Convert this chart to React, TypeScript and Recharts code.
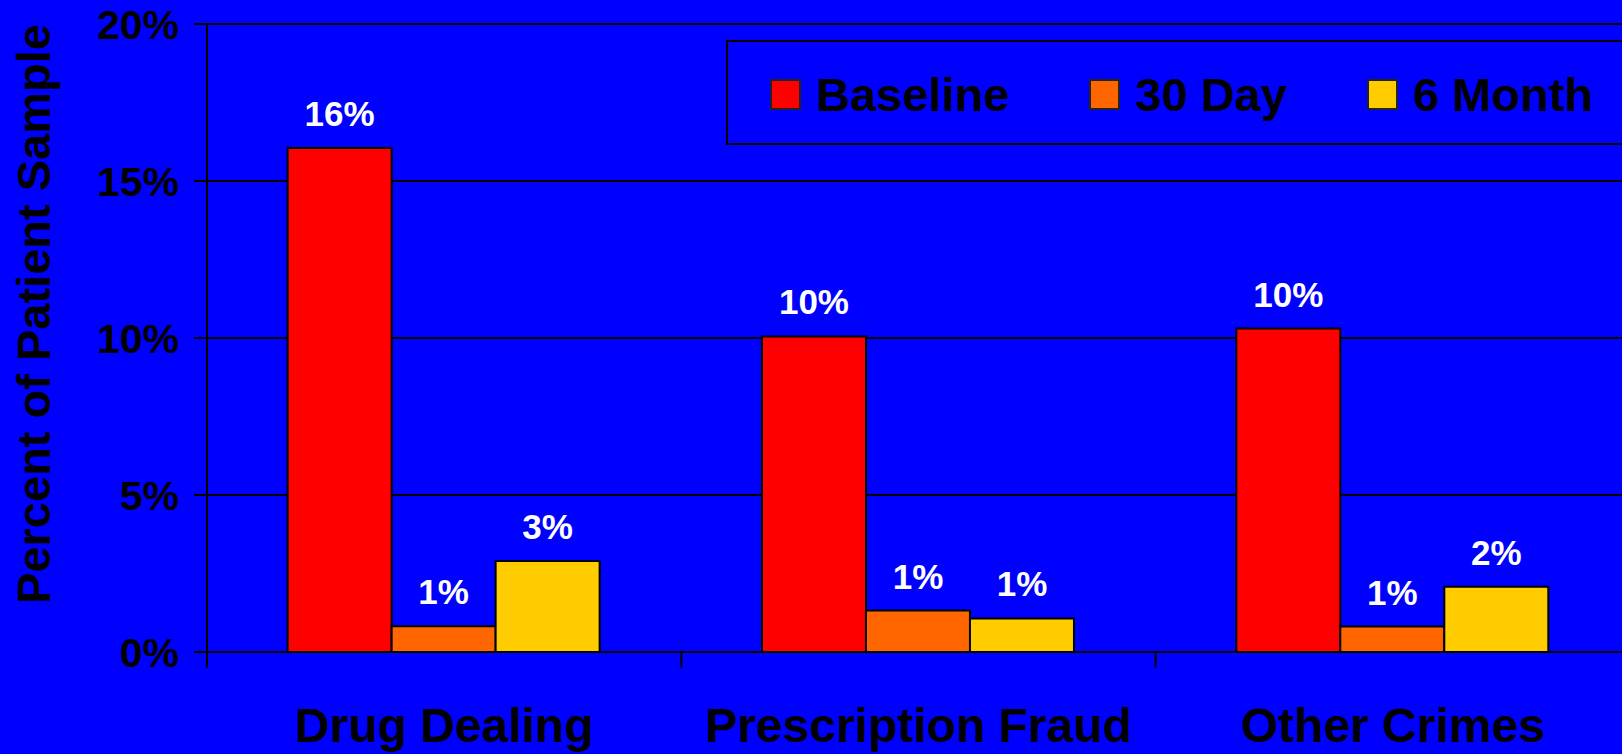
import React from 'react';
import { BarChart, Bar, XAxis, YAxis, CartesianGrid, Legend, LabelList, Label } from 'recharts';

const categories = ['Drug Dealing', 'Prescription Fraud', 'Other Crimes'];
const seriesNames = ['Baseline', '30 Day', '6 Month'];
const baseline = [16.05, 10.05, 10.3];
const day30 = [0.82, 1.32, 0.81];
const month6 = [2.9, 1.07, 2.08];
const yTicks = [0, 5, 10, 15, 20];

const FONT = '"Liberation Sans", Arial, Helvetica, sans-serif';

const chartData = categories.map((name, i) => ({
    name,
    baseline: baseline[i],
    day30: day30[i],
    month6: month6[i],
}));

// x tick: label in the middle, tick marks on the category edges
function CategoryTick(props: any) {
    const { x, y, payload, index, visibleTicksCount } = props;
    const half = payload.offset || 0;
    const isLast = index === visibleTicksCount - 1;
    return (
        <g>
            <line x1={x - half} x2={x - half} y1={y} y2={y + 16} stroke="#000" strokeWidth={2} />
            {isLast && <line x1={x + half} x2={x + half} y1={y} y2={y + 16} stroke="#000" strokeWidth={2} />}
            <text x={x} y={y + 90} textAnchor="middle" fill="#000" fontSize={48} fontWeight="bold" fontFamily={FONT}>
                {payload.value}
            </text>
        </g>
    );
}

function LegendBox(props: any) {
    const items = [...(props.payload || [])].sort(
        (a: any, b: any) => seriesNames.indexOf(a.value) - seriesNames.indexOf(b.value)
    );
    return (
        <div style={{ display: 'flex', alignItems: 'center', height: '100%', paddingLeft: 42, paddingTop: 3, boxSizing: 'border-box' }}>
            {items.map((p: any) => (
                <div key={p.value} style={{ display: 'flex', alignItems: 'center', marginRight: 80 }}>
                    <div style={{ width: 27, height: 27, background: p.color, border: '2px solid #222', marginRight: 15 }} />
                    <span style={{ fontFamily: FONT, fontWeight: 'bold', fontSize: 47, color: '#000', lineHeight: 1, whiteSpace: 'nowrap' }}>
                        {p.value}
                    </span>
                </div>
            ))}
        </div>
    );
}

const labelStyle = { fill: '#fff', fontSize: 35, fontWeight: 'bold', fontFamily: FONT };
const pct = (v: any) => `${Math.round(Number(v))}%`;

export default function App() {
    return (
        <div style={{ position: 'absolute', left: 0, top: 0, width: 1622, height: 754, overflow: 'hidden', background: '#0000ff' }}>
            <BarChart
                width={1630}
                height={754}
                data={chartData}
                margin={{ top: 24, right: 0, left: 0, bottom: 0 }}
                barCategoryGap="17%"
                barGap={0}
            >
                <CartesianGrid vertical={false} stroke="#000" strokeWidth={2} />
                <XAxis
                    dataKey="name"
                    height={102}
                    axisLine={{ stroke: '#000', strokeWidth: 2 }}
                    tickLine={false}
                    tickSize={0}
                    tickMargin={0}
                    interval={0}
                    tick={<CategoryTick />}
                />
                <YAxis
                    width={207}
                    domain={[0, 20]}
                    ticks={yTicks}
                    tickFormatter={(v) => `${v}%`}
                    axisLine={{ stroke: '#000', strokeWidth: 2 }}
                    tickLine={{ stroke: '#000', strokeWidth: 2 }}
                    tickSize={13}
                    tickMargin={15}
                    tick={{ fill: '#000', fontSize: 41, fontWeight: 'bold', fontFamily: FONT }}
                >
                    <Label
                        content={() => (
                            <text
                                x={50}
                                y={314}
                                transform="rotate(-90 50 314)"
                                textAnchor="middle"
                                fill="#000"
                                fontSize={47}
                                fontWeight="bold"
                                fontFamily={FONT}
                            >
                                Percent of Patient Sample
                            </text>
                        )}
                    />
                </YAxis>
                <Legend
                    layout="horizontal"
                    verticalAlign="middle"
                    align="center"
                    content={<LegendBox />}
                    wrapperStyle={{ position: 'absolute', left: 726, top: 40, width: 1000, height: 105, border: '2px solid #000', boxSizing: 'border-box' }}
                />
                <Bar dataKey="baseline" name={seriesNames[0]} fill="#ff0000" stroke="#000" strokeWidth={2} isAnimationActive={false}>
                    <LabelList dataKey="baseline" position="top" offset={22} formatter={pct} style={labelStyle} />
                </Bar>
                <Bar dataKey="day30" name={seriesNames[1]} fill="#ff6600" stroke="#000" strokeWidth={2} isAnimationActive={false}>
                    <LabelList dataKey="day30" position="top" offset={22} formatter={pct} style={labelStyle} />
                </Bar>
                <Bar dataKey="month6" name={seriesNames[2]} fill="#ffcc00" stroke="#000" strokeWidth={2} isAnimationActive={false}>
                    <LabelList dataKey="month6" position="top" offset={22} formatter={pct} style={labelStyle} />
                </Bar>
            </BarChart>
        </div>
    );
}
